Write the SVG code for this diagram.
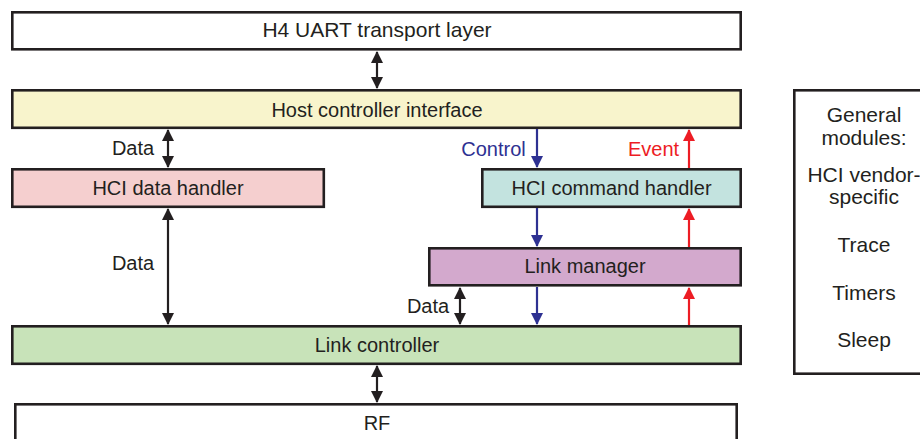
<svg xmlns="http://www.w3.org/2000/svg" width="920" height="439" viewBox="0 0 920 439">
<style>
  .box { stroke: #231f20; stroke-width: 2.6; }
  .t { font-family: "Liberation Sans", Arial, sans-serif; font-size: 20px; fill: #231f20; text-anchor: middle; }
  .g { font-size: 21px; }
  .lbl { font-family: "Liberation Sans", Arial, sans-serif; font-size: 20px; }
  .k { stroke: #231f20; stroke-width: 2.2; fill: none; }
  .b { stroke: #2e3192; stroke-width: 2.2; fill: none; }
  .r { stroke: #ed1c24; stroke-width: 2.2; fill: none; }
</style>
<defs>
  <marker id="ak" viewBox="0 0 12 12" refX="11" refY="6" markerWidth="12" markerHeight="12" markerUnits="userSpaceOnUse" orient="auto-start-reverse">
    <path d="M0,0 L12,6 L0,12 z" fill="#231f20"/>
  </marker>
  <marker id="ab" viewBox="0 0 12 12" refX="11" refY="6" markerWidth="12" markerHeight="12" markerUnits="userSpaceOnUse" orient="auto">
    <path d="M0,0 L12,6 L0,12 z" fill="#2e3192"/>
  </marker>
  <marker id="ar" viewBox="0 0 12 12" refX="11" refY="6" markerWidth="12" markerHeight="12" markerUnits="userSpaceOnUse" orient="auto">
    <path d="M0,0 L12,6 L0,12 z" fill="#ed1c24"/>
  </marker>
</defs>
<rect width="920" height="439" fill="#ffffff"/>

<g id="h4">
  <rect class="box" x="12.3" y="12.3" width="728.4" height="37" fill="#ffffff"/>
  <text class="t g" x="377" y="37">H4 UART transport layer</text>
</g>
<g id="hci">
  <rect class="box" x="12.3" y="90.3" width="728.4" height="37.5" fill="#f8f4cc"/>
  <text class="t" x="377" y="117">Host controller interface</text>
</g>
<g id="data-handler">
  <rect class="box" x="12.3" y="169.3" width="311.5" height="37.5" fill="#f5cfcf"/>
  <text class="t" x="168" y="195">HCI data handler</text>
</g>
<g id="cmd-handler">
  <rect class="box" x="482.3" y="169.3" width="258.4" height="37.5" fill="#c3e3df"/>
  <text class="t" x="611.5" y="195">HCI command handler</text>
</g>
<g id="link-manager">
  <rect class="box" x="429.3" y="248.3" width="311.4" height="37" fill="#d3a9cd"/>
  <text class="t" x="585" y="273">Link manager</text>
</g>
<g id="link-controller">
  <rect class="box" x="12.3" y="326.3" width="728.4" height="37.5" fill="#c8e3b9"/>
  <text class="t" x="377" y="352">Link controller</text>
</g>
<g id="rf">
  <rect class="box" x="15.3" y="404.3" width="721.4" height="60" fill="#ffffff"/>
  <text class="t" x="377" y="430">RF</text>
</g>
<g id="general-modules">
  <rect class="box" x="794.3" y="90.3" width="140" height="283.4" fill="#ffffff"/>
  <text class="t g" x="864" y="122">General</text>
  <text class="t g" x="864" y="145">modules:</text>
  <text class="t g" x="864" y="182">HCI vendor-</text>
  <text class="t g" x="864" y="204">specific</text>
  <text class="t g" x="864" y="252">Trace</text>
  <text class="t g" x="864" y="300">Timers</text>
  <text class="t g" x="864" y="347">Sleep</text>
</g>

<g id="connectors">
  <line class="k" x1="377" y1="52" x2="377" y2="88" marker-start="url(#ak)" marker-end="url(#ak)"/>
  <line class="k" x1="168" y1="130" x2="168" y2="167" marker-start="url(#ak)" marker-end="url(#ak)"/>
  <line class="k" x1="168" y1="209" x2="168" y2="324" marker-start="url(#ak)" marker-end="url(#ak)"/>
  <line class="k" x1="460" y1="288" x2="460" y2="324" marker-start="url(#ak)" marker-end="url(#ak)"/>
  <line class="k" x1="377" y1="366" x2="377" y2="402" marker-start="url(#ak)" marker-end="url(#ak)"/>
  <line class="b" x1="537" y1="129" x2="537" y2="167" marker-end="url(#ab)"/>
  <line class="b" x1="537" y1="208" x2="537" y2="246" marker-end="url(#ab)"/>
  <line class="b" x1="537" y1="287" x2="537" y2="324" marker-end="url(#ab)"/>
  <line class="r" x1="689" y1="168" x2="689" y2="130" marker-end="url(#ar)"/>
  <line class="r" x1="689" y1="247" x2="689" y2="209" marker-end="url(#ar)"/>
  <line class="r" x1="689" y1="325" x2="689" y2="288" marker-end="url(#ar)"/>
  <text class="lbl" x="133" y="155" fill="#231f20" text-anchor="middle">Data</text>
  <text class="lbl" x="133" y="270" fill="#231f20" text-anchor="middle">Data</text>
  <text class="lbl" x="428" y="313" fill="#231f20" text-anchor="middle">Data</text>
  <text class="lbl" x="493.5" y="156" fill="#2e3192" text-anchor="middle">Control</text>
  <text class="lbl" x="653.5" y="156" fill="#ed1c24" text-anchor="middle">Event</text>
</g>
</svg>
